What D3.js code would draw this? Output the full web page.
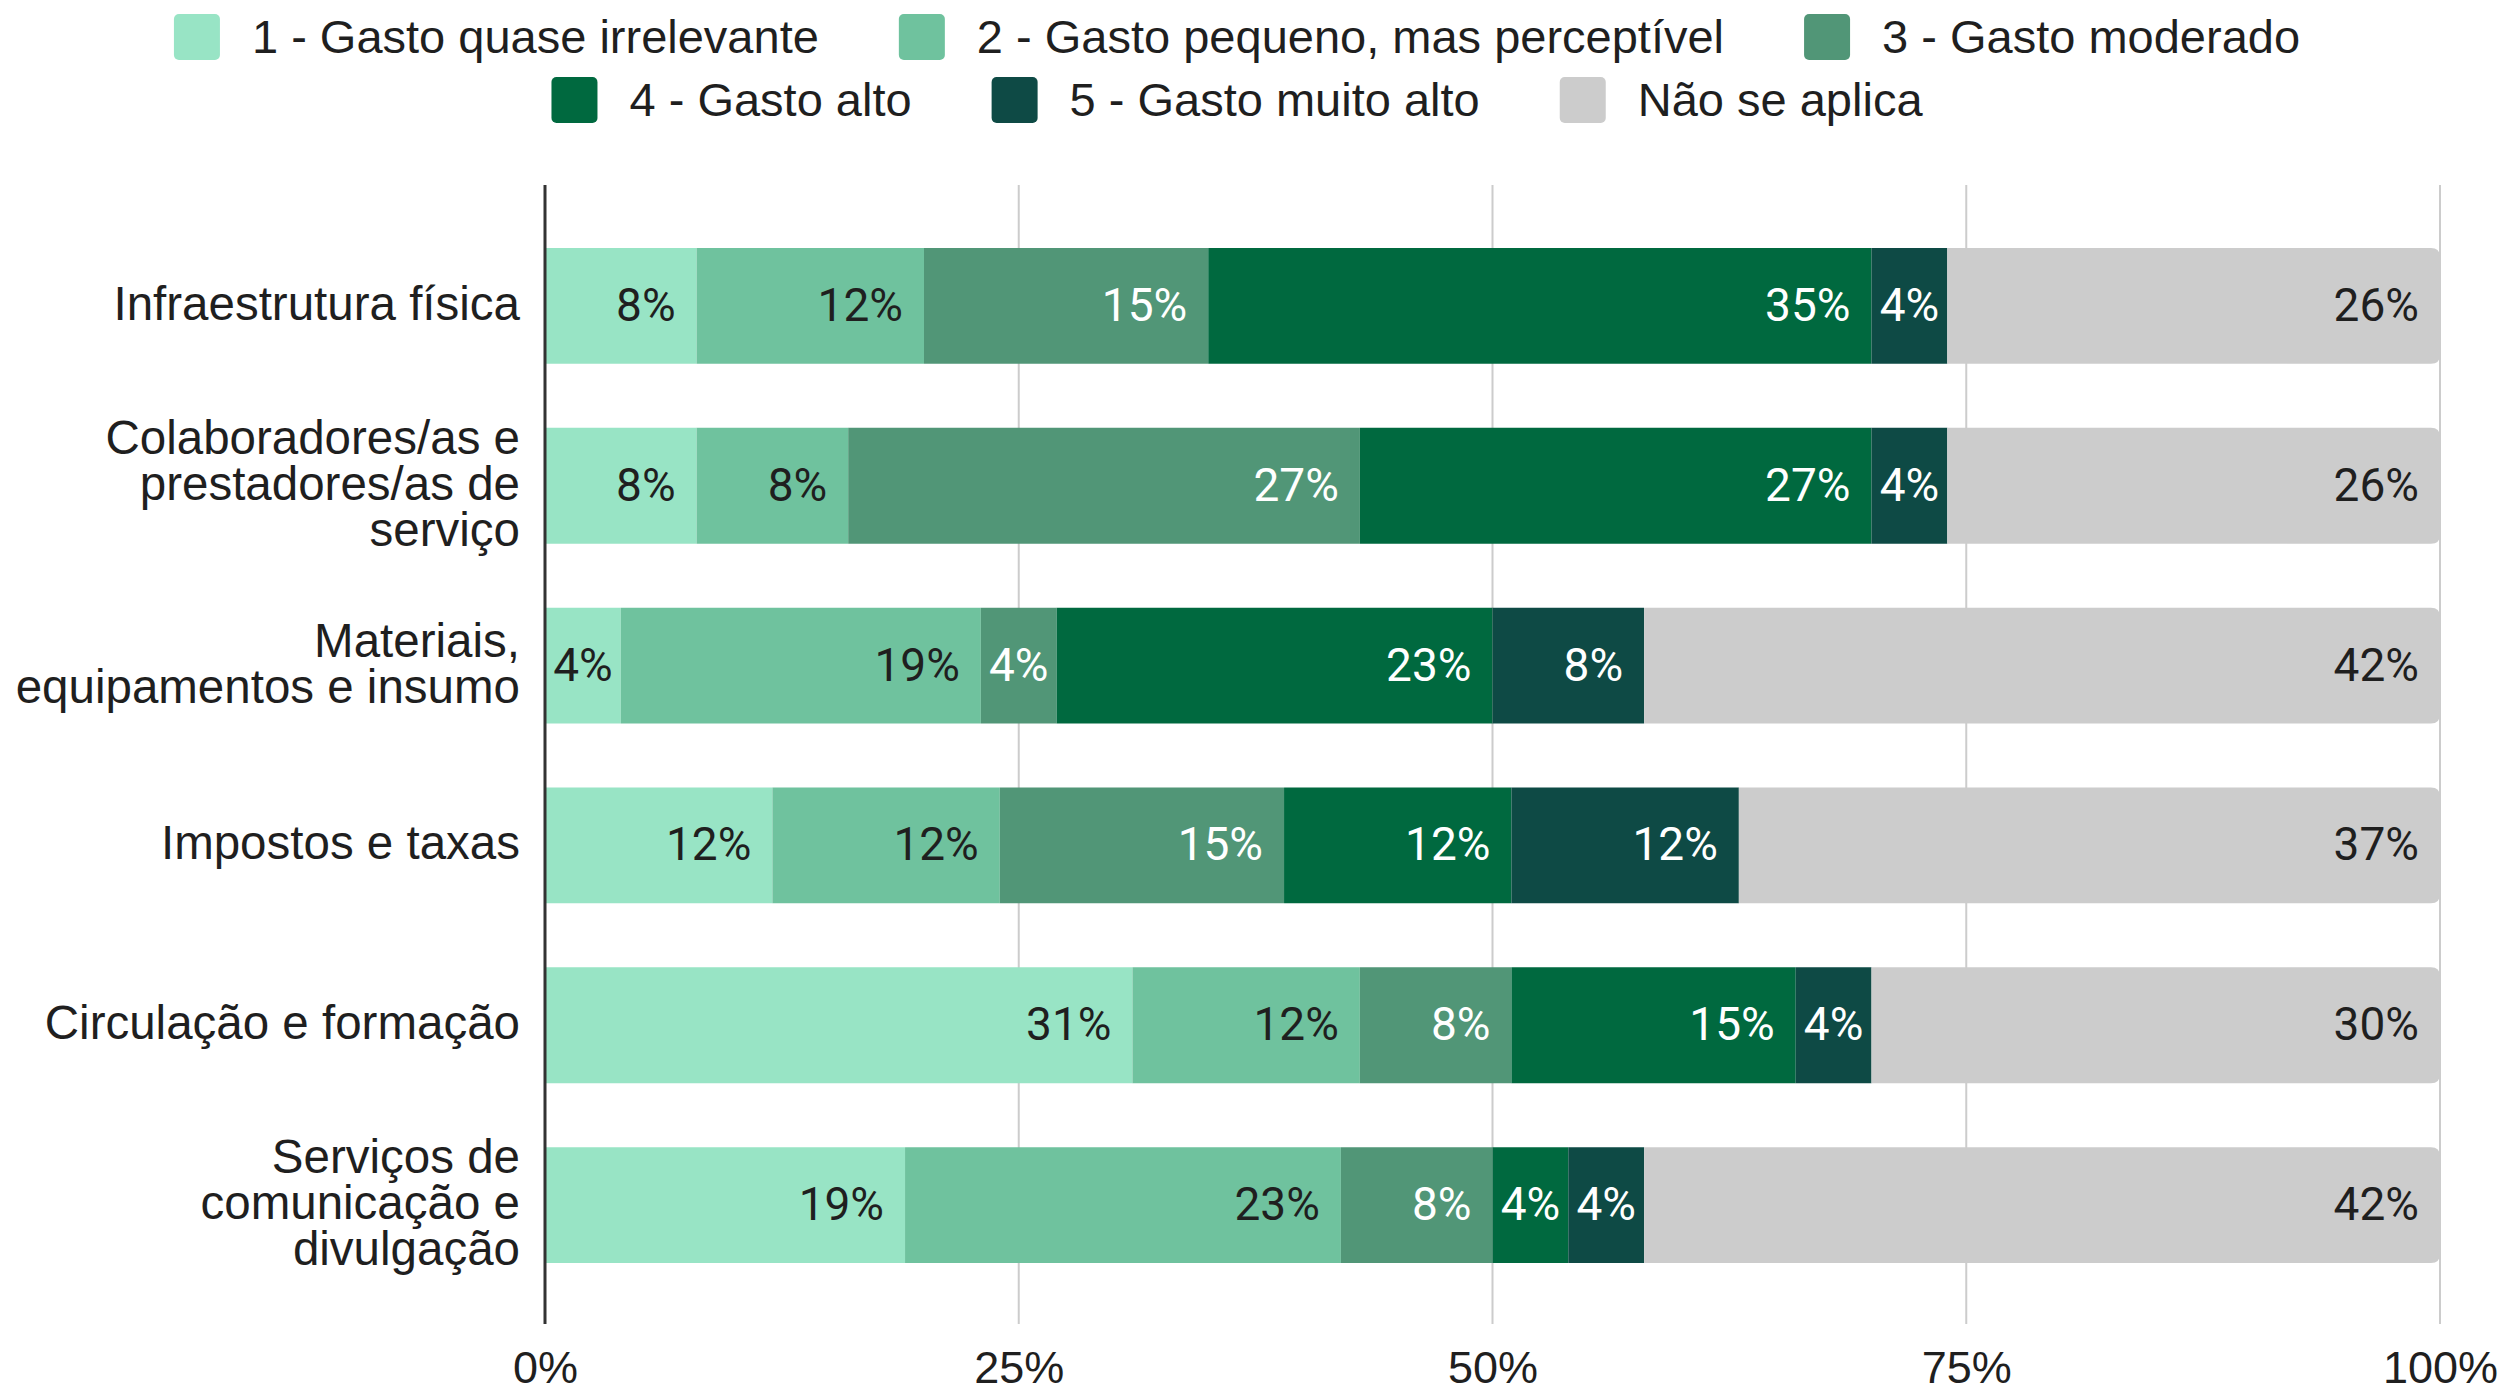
<!DOCTYPE html>
<html>
<head>
<meta charset="utf-8">
<script src="https://cdn.jsdelivr.net/npm/d3@7"></script>
<style>
  html, body { margin: 0; padding: 0; background: #ffffff; }
  svg { display: block; }
</style>
</head>
<body>
<svg id="chart" width="2507" height="1394"></svg>
<script>
// ---------------- data ----------------
const categories = [
  "Infraestrutura física",
  "Colaboradores/as e\nprestadores/as de\nserviço",
  "Materiais,\nequipamentos e insumo",
  "Impostos e taxas",
  "Circulação e formação",
  "Serviços de\ncomunicação e\ndivulgação"
];
const seriesNames = [
  "1 - Gasto quase irrelevante",
  "2 - Gasto pequeno, mas perceptível",
  "3 - Gasto moderado",
  "4 - Gasto alto",
  "5 - Gasto muito alto",
  "Não se aplica"
];
const gasto1 = [8, 8, 4, 12, 31, 19];
const gasto2 = [12, 8, 19, 12, 12, 23];
const gasto3 = [15, 27, 4, 15, 8, 8];
const gasto4 = [35, 27, 23, 12, 15, 4];
const gasto5 = [4, 4, 8, 12, 4, 4];
const naoSeAplica = [26, 26, 42, 37, 30, 42];
const tickValues = [0, 25, 50, 75, 100];
const tickLabels = ["0%", "25%", "50%", "75%", "100%"];

const seriesValues = [gasto1, gasto2, gasto3, gasto4, gasto5, naoSeAplica];
const colors = ["#98e4c5", "#6fc29e", "#519677", "#00693f", "#0e4a45", "#cccccc"];
const labelColors = ["#1f1f1f", "#1f1f1f", "#ffffff", "#ffffff", "#ffffff", "#1f1f1f"];

// ---------------- layout ----------------
const svg = d3.select("#chart");
const x = d3.scaleLinear().domain([0, 100]).range([545, 2440]);
const y = d3.scaleBand().domain(categories).range([185, 1326])
  .paddingInner(0.356).paddingOuter(0.35);

const axisFont = "'Liberation Sans', Arial, sans-serif";
const labelFont = "Roboto, 'Noto Sans', sans-serif";

// gridlines (behind bars)
const grid = svg.append("g");
grid.selectAll("line").data(tickValues.filter(d => d > 0)).join("line")
  .attr("x1", d => x(d)).attr("x2", d => x(d))
  .attr("y1", 185).attr("y2", 1324)
  .attr("stroke", "#cccccc").attr("stroke-width", 2);

// stacked data
const rows = categories.map((c, i) => {
  let acc = 0;
  return seriesValues.map((vals, s) => {
    const v = vals[i];
    const seg = { cat: c, s, v, x0: acc, x1: acc + v };
    acc += v;
    return seg;
  });
});
const segs = rows.flat();

function roundedRight(x0, y0, w, h, r) {
  return `M${x0},${y0}H${x0 + w - r}Q${x0 + w},${y0} ${x0 + w},${y0 + r}` +
    `V${y0 + h - r}Q${x0 + w},${y0 + h} ${x0 + w - r},${y0 + h}H${x0}Z`;
}

const bars = svg.append("g");
bars.selectAll("path").data(segs).join("path")
  .attr("d", d => {
    const x0 = x(d.x0), w = x(d.x1) - x(d.x0), y0 = y(d.cat), h = y.bandwidth();
    if (d.s === seriesValues.length - 1) return roundedRight(x0, y0, w, h, 9);
    return `M${x0},${y0}h${w}v${h}h${-w}Z`;
  })
  .attr("fill", d => colors[d.s]);

// segment labels
const labels = svg.append("g")
  .attr("font-family", labelFont).attr("font-size", 46);
labels.selectAll("text").data(segs).join("text")
  .text(d => d.v + "%")
  .attr("fill", d => labelColors[d.s])
  .attr("y", d => y(d.cat) + y.bandwidth() / 2 + 15)
  .each(function (d) {
    const tw = this.getComputedTextLength();
    const x0 = x(d.x0), x1 = x(d.x1);
    const pad = 21;
    if (tw + pad * 1.2 > x1 - x0) {
      d3.select(this).attr("x", (x0 + x1) / 2).attr("text-anchor", "middle");
    } else {
      d3.select(this).attr("x", x1 - pad).attr("text-anchor", "end");
    }
  });

// y axis line
svg.append("line")
  .attr("x1", x(0)).attr("x2", x(0)).attr("y1", 185).attr("y2", 1324)
  .attr("stroke", "#333333").attr("stroke-width", 3);

// category labels
const catG = svg.append("g")
  .attr("font-family", axisFont).attr("font-size", 47.5).attr("fill", "#1f1f1f")
  .attr("text-anchor", "end");
catG.selectAll("text").data(categories).join("text")
  .each(function (c) {
    const lines = c.split("\n");
    const n = lines.length;
    const cy = y(c) + y.bandwidth() / 2;
    const lh = 46;
    d3.select(this).selectAll("tspan").data(lines).join("tspan")
      .attr("x", 520)
      .attr("y", (l, i) => cy + 14 + (i - (n - 1) / 2) * lh)
      .text(l => l);
  });

// x tick labels
const xAxis = d3.axisBottom(x).tickValues(tickValues)
  .tickFormat((d, i) => tickLabels[i]).tickSize(0).tickPadding(0);
const xg = svg.append("g").attr("transform", "translate(0,1350)").call(xAxis);
xg.select(".domain").remove();
xg.selectAll("text")
  .attr("font-family", axisFont).attr("font-size", 45).attr("fill", "#1f1f1f")
  .attr("dy", "0.74em");

// legend
const legendRows = [[0, 1, 2], [3, 4, 5]];
const legendCY = [37, 100];
const sw = 46, swGap = 32, itemGap = 80, legendCenter = 1237;
const legend = svg.append("g").attr("font-family", axisFont).attr("font-size", 47).attr("fill", "#1f1f1f");
legendRows.forEach((row, r) => {
  const items = row.map(s => {
    const g = legend.append("g");
    g.append("rect").attr("width", sw).attr("height", sw).attr("rx", 5)
      .attr("y", legendCY[r] - sw / 2).attr("fill", colors[s]);
    const t = g.append("text").attr("x", sw + swGap).attr("y", legendCY[r] + 16).text(seriesNames[s]);
    return { g, w: sw + swGap + t.node().getComputedTextLength() };
  });
  const total = d3.sum(items, d => d.w) + itemGap * (items.length - 1);
  let cx = legendCenter - total / 2;
  items.forEach(it => { it.g.attr("transform", `translate(${cx},0)`); cx += it.w + itemGap; });
});
</script>
</body>
</html>
